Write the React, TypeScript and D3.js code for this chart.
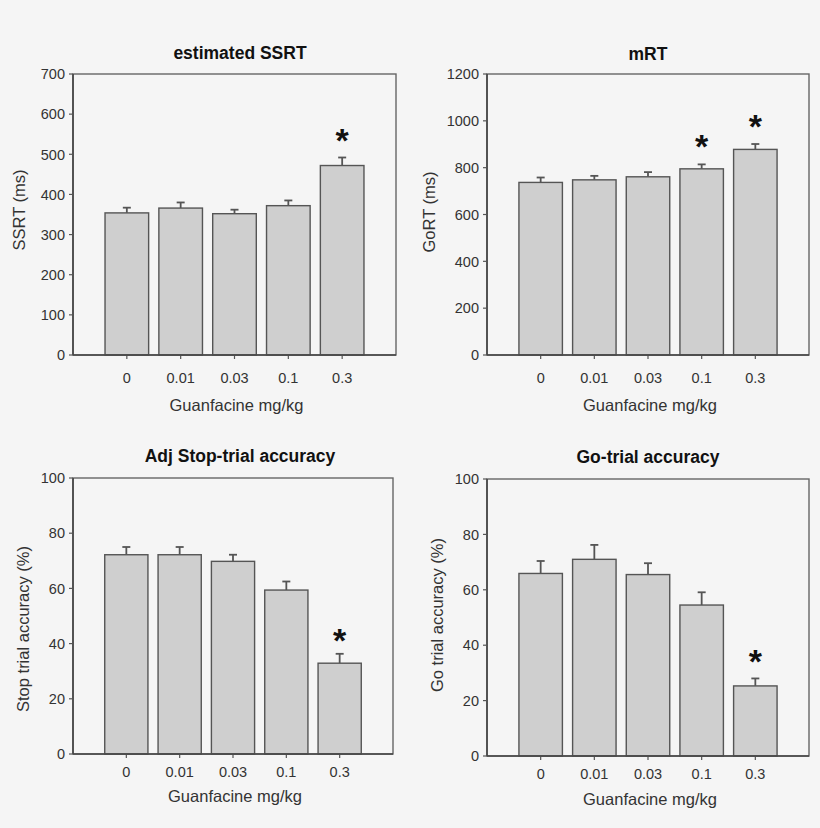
import React from "react";
import * as d3 from "d3";

const doses = ["0", "0.01", "0.03", "0.1", "0.3"];

const ssrtMean = [354, 366, 352, 372, 472];
const ssrtErr = [13, 14, 10, 13, 20];
const ssrtTicks = [0, 100, 200, 300, 400, 500, 600, 700];
const ssrtStars = [4];

const mrtMean = [737, 748, 761, 795, 878];
const mrtErr = [21, 17, 20, 19, 23];
const mrtTicks = [0, 200, 400, 600, 800, 1000, 1200];
const mrtStars = [3, 4];

const stopMean = [72.2, 72.2, 69.8, 59.4, 32.9];
const stopErr = [2.8, 2.8, 2.4, 3.1, 3.4];
const stopTicks = [0, 20, 40, 60, 80, 100];
const stopStars = [4];

const goMean = [65.9, 71.0, 65.5, 54.5, 25.3];
const goErr = [4.5, 5.2, 4.1, 4.6, 2.7];
const goTicks = [0, 20, 40, 60, 80, 100];
const goStars = [4];

const FONT = "'Liberation Sans', Arial, Helvetica, sans-serif";
const TXT = "#333";
const LINE = "#555";

type Panel = {
  title: string;
  ylabel: string;
  mean: number[];
  err: number[];
  ticks: number[];
  stars: number[];
  left: number;
  right: number;
  top: number;
  bottom: number;
  titleX: number;
  titleY: number;
  ylabelX: number;
  ylabelY: number;
  xtickY: number;
  xlabelY: number;
  starGap: number;
};

const panels: Panel[] = [
  {
    title: "estimated SSRT", ylabel: "SSRT (ms)", mean: ssrtMean, err: ssrtErr, ticks: ssrtTicks, stars: ssrtStars,
    left: 73, right: 396, top: 74, bottom: 355, titleX: 240, titleY: 59, ylabelX: 25, ylabelY: 210, xtickY: 383, xlabelY: 411, starGap: 27,
  },
  {
    title: "mRT", ylabel: "GoRT (ms)", mean: mrtMean, err: mrtErr, ticks: mrtTicks, stars: mrtStars,
    left: 487, right: 809, top: 74, bottom: 355, titleX: 648, titleY: 60, ylabelX: 435, ylabelY: 212, xtickY: 383, xlabelY: 411, starGap: 27,
  },
  {
    title: "Adj Stop-trial accuracy", ylabel: "Stop trial accuracy (%)", mean: stopMean, err: stopErr, ticks: stopTicks, stars: stopStars,
    left: 73, right: 393, top: 478, bottom: 754, titleX: 240, titleY: 462, ylabelX: 29, ylabelY: 629, xtickY: 777, xlabelY: 802, starGap: 23,
  },
  {
    title: "Go-trial accuracy", ylabel: "Go trial accuracy (%)", mean: goMean, err: goErr, ticks: goTicks, stars: goStars,
    left: 487, right: 809, top: 479, bottom: 756, titleX: 648, titleY: 463, ylabelX: 443, ylabelY: 615, xtickY: 779, xlabelY: 805, starGap: 27,
  },
];

function ChartPanel({ p }: { p: Panel }) {
  const x = d3
    .scalePoint<string>()
    .domain(["_l", ...doses, "_r"])
    .range([p.left, p.right]);
  const step = x.step();
  const bw = step * 0.81;
  const y = d3
    .scaleLinear()
    .domain([p.ticks[0], p.ticks[p.ticks.length - 1]])
    .range([p.bottom, p.top]);
  const capW = 8;

  return (
    <g>
      <text x={p.titleX} y={p.titleY} textAnchor="middle" fontFamily={FONT} fontWeight="bold" fontSize={17.5} fill="#111">
        {p.title}
      </text>
      {doses.map((d, i) => {
        const cx = x(d)!;
        const yTop = y(p.mean[i]);
        const yErr = y(p.mean[i] + p.err[i]);
        return (
          <g key={d}>
            <line x1={cx} x2={cx} y1={yTop} y2={yErr} stroke={LINE} strokeWidth={1.8} />
            <line x1={cx - capW / 2} x2={cx + capW / 2} y1={yErr} y2={yErr} stroke={LINE} strokeWidth={1.8} />
            <rect x={cx - bw / 2} y={yTop} width={bw} height={p.bottom - yTop} fill="#cfcfcf" stroke={LINE} strokeWidth={1.4} />
            {p.stars.includes(i) && (
              <text x={cx} y={yErr - p.starGap} dy={"0.62em"} textAnchor="middle" fontFamily={FONT} fontWeight="bold" fontSize={34} fill="#111">
                *
              </text>
            )}
            <line x1={cx} x2={cx} y1={p.bottom} y2={p.bottom + 4} stroke={LINE} strokeWidth={1.2} />
            <text x={cx} y={p.xtickY} textAnchor="middle" fontFamily={FONT} fontSize={14.5} fill={TXT}>
              {d}
            </text>
          </g>
        );
      })}
      <rect x={p.left} y={p.top} width={p.right - p.left} height={p.bottom - p.top} fill="none" stroke="#666" strokeWidth={1.4} />
      <line x1={p.left} x2={p.right} y1={p.bottom} y2={p.bottom} stroke="#444" strokeWidth={1.6} />
      <line x1={p.left} x2={p.left} y1={p.top} y2={p.bottom} stroke="#444" strokeWidth={1.6} />
      {p.ticks.map((t) => (
        <g key={t}>
          <line x1={p.left - 4} x2={p.left} y1={y(t)} y2={y(t)} stroke={LINE} strokeWidth={1.2} />
          <text x={p.left - 8} y={y(t)} dy="0.36em" textAnchor="end" fontFamily={FONT} fontSize={14.5} fill={TXT}>
            {t}
          </text>
        </g>
      ))}
      <text
        transform={`translate(${p.ylabelX},${p.ylabelY}) rotate(-90)`}
        textAnchor="middle"
        fontFamily={FONT}
        fontSize={16.5}
        fill={TXT}
      >
        {p.ylabel}
      </text>
      <text x={(p.left + p.right) / 2 + 2} y={p.xlabelY} textAnchor="middle" fontFamily={FONT} fontSize={16.5} fill={TXT}>
        Guanfacine mg/kg
      </text>
    </g>
  );
}

export default function App() {
  return (
    <div style={{ position: "absolute", left: 0, top: 0, width: 820, height: 828 }}>
      <svg width={820} height={828} style={{ display: "block", background: "#f5f5f5" }}>
        {panels.map((p) => (
          <ChartPanel key={p.title} p={p} />
        ))}
      </svg>
    </div>
  );
}
